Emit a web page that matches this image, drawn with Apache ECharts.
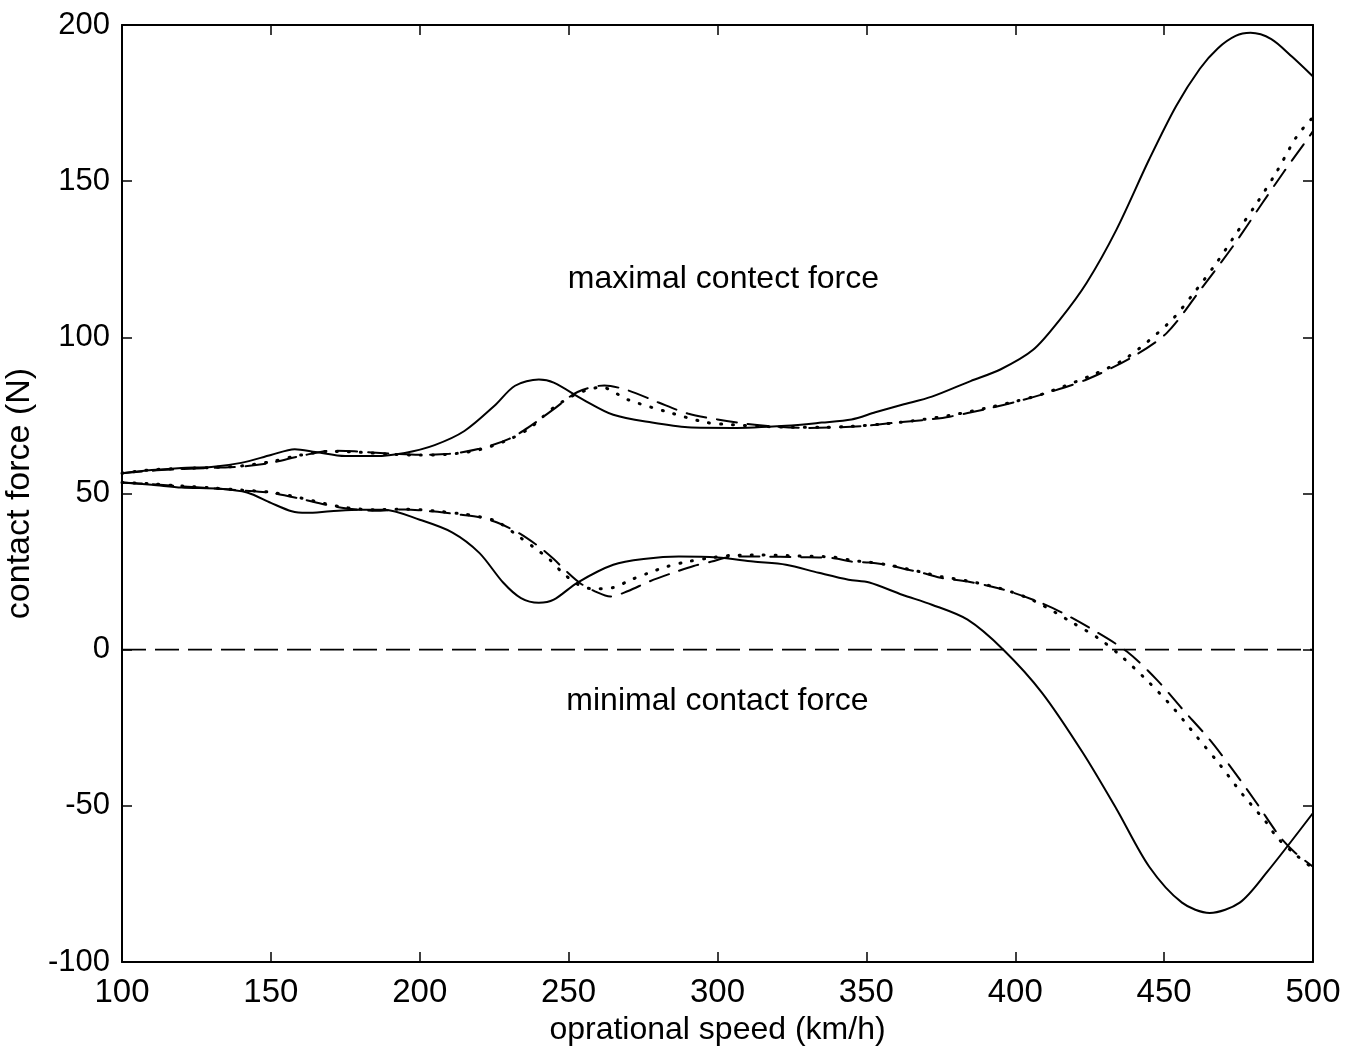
<!DOCTYPE html>
<html>
<head>
<meta charset="utf-8">
<script src="https://cdn.jsdelivr.net/npm/echarts@6/dist/echarts.min.js"></script>
<style>
html,body{margin:0;padding:0;background:#fff;}
#chart{width:1359px;height:1048px;}
</style>
</head>
<body>
<div id="chart"></div>
<script>
// x ticks / y ticks
const xTicks = [100, 150, 200, 250, 300, 350, 400, 450, 500];
const yTicks = [-100, -50, 0, 50, 100, 150, 200];

// Maximal contact force curves [speed, force]
const maxSolid = [
  [100,56.5],[110,57.5],[120,58.2],[130,58.5],[140,59.8],[150,62.3],[158,64.2],[165,63.3],
  [175,62],[185,62],[195,63],[205,65.5],[215,70],[225,78],[232,84.5],[240,86.5],[245,85.5],
  [255,80],[265,75.2],[278,72.7],[290,71.2],[305,71],[323,71.7],[335,72.7],[345,73.7],
  [353,76],[362,78.4],[372,81],[385,86],[395,89.7],[406,96],[415,105.7],[424,117.5],
  [434,134.5],[445,157],[454,174],[462,186],[468,192.5],[474,196.5],[479,197.5],[486,195.5],
  [493,189.8],[500,183.5]
];
const maxDotted = [
  [100,56.5],[110,57.6],[120,58],[130,58.3],[140,58.8],[150,60.2],[160,62.3],[170,63.5],
  [180,63.2],[190,62.6],[200,62.3],[210,62.6],[220,64],[230,67.3],[237,71],[245,77.5],
  [253,82],[261,84],[270,80],[284,75.9],[296,72.8],[305,72],[315,71.5],[325,71.2],[335,71.2],
  [345,71.5],[355,72.2],[365,73.2],[378,75],[390,77.3],[400,79.5],[409,81.8],[426,88],
  [437.5,93.5],[452,105],[459.6,113.7],[467.7,124],[474.4,133.5],[481.5,143.5],[487.8,153],
  [494.6,164.4],[500,170.5]
];
const maxDashed = [
  [100,56.5],[110,57.3],[120,57.8],[130,58.2],[140,58.6],[150,59.8],[160,62],[170,63.7],
  [178,63.5],[190,62.8],[200,62.4],[210,62.7],[220,64.3],[230,67.5],[237,71.5],[245,77],
  [253,82.5],[262,84.6],[270,83],[280,79.2],[290,75.6],[300,73.7],[310,72.3],[320,71.4],
  [330,71],[340,71.2],[350,71.7],[360,72.7],[370,73.6],[378,74.6],[390,77],[400,79.3],
  [410,82],[424,86.5],[439.5,93.8],[451,101.5],[462,115],[473,129],[483,143],[490,152.7],
  [498,163.3],[500,166]
];

// Minimal contact force curves [speed, force]
const minSolid = [
  [100,53.5],[110,52.8],[120,51.9],[133,51.5],[142,50.3],[150,47],[157,44.3],[162,43.8],
  [170,44.3],[180,44.8],[188,44.8],[200,41.6],[211,37.5],[220,31],[228,21.5],[234,16.5],
  [240,15],[245,16],[253,21.5],[265,27.2],[276,29.1],[287,29.8],[300,29.5],[312,28.2],
  [323,27.2],[334,24.6],[344,22.4],[351,21.5],[362,17.6],[372,14.4],[384,9.6],[396,0],
  [409,-13.8],[422.7,-33],[434,-51],[445,-69.5],[456,-81],[465.3,-84.3],[475.4,-81],
  [484.4,-71.4],[500,-52.3]
];
const minDotted = [
  [100,53.5],[110,53.1],[120,52.4],[130,51.8],[140,51.1],[150,50.4],[160,48.6],[168,46.8],
  [175,45.5],[185,44.8],[195,45],[205,44.4],[214,43.5],[220,42.6],[226,41],[233.6,36],
  [239.4,32],[243.7,28.8],[248,24.6],[253,21],[258,19.5],[265,19.9],[271,22.4],[277,24.6],
  [283,26.6],[290,28.2],[297,29.3],[305,30.2],[315,30.3],[327,30],[339,29.6],[345,28.6],
  [351,28],[357,27.2],[364,25.8],[370,24.5],[375,23.4],[384,22],[395,19.6],[406,15.8],
  [419.3,8.6],[428,3.6],[435,-1.6],[444,-9.6],[453,-18.6],[461,-27.9],[468.7,-36.8],
  [476.4,-46.4],[484.4,-55.4],[488,-60.2],[494,-65.5],[500,-70]
];
const minDashed = [
  [100,53.5],[110,53],[120,52.3],[130,51.7],[140,51],[150,50.2],[160,48.3],[168,46.5],
  [175,45.3],[185,44.5],[195,44.9],[205,44.2],[214,43.2],[220,42.4],[226,40.7],[233,37.5],
  [240,33],[245,29],[249,25.3],[254,21.2],[259,18.6],[264,17],[270,18.8],[277,21.8],
  [285,24.6],[292,26.8],[298,28.2],[305,29.8],[315,29.8],[327,29.6],[339,29.3],[345,28.2],
  [351,27.9],[357,27.1],[364,25.6],[370,24.3],[375,23],[384,21.8],[395,19.5],[406,16],
  [415,12.2],[426,6.4],[437.5,-0.6],[447.5,-9.6],[456.3,-19.2],[465.3,-28.8],[473,-38.4],
  [481,-49],[488.8,-59.8],[494,-65],[500,-69.5]
];

// zero reference line
const zeroLine = [[100,0],[500,0]];

// annotation texts with their data anchor
const annotations = [
  {text: 'maximal contect force', at: [302, 118.5]},
  {text: 'minimal contact force', at: [300, -16.5]}
];

const chart = echarts.init(document.getElementById('chart'), null, {renderer: 'canvas'});

const FONT = "'Liberation Sans', Arial, Helvetica, sans-serif";
const axisLine = {show: true, onZero: false, lineStyle: {color: '#000', width: 2}};
const axisTick = {show: true, inside: true, length: 10, lineStyle: {color: '#000', width: 1.5}};

function lineSeries(name, data, type, width) {
  return {
    name: name, type: 'line', data: data, xAxisIndex: 0, yAxisIndex: 0,
    showSymbol: false, symbol: 'none', smooth: 0.3,
    lineStyle: {color: '#000', width: width, type: type, cap: 'round'},
    z: 3
  };
}

const option = {
  animation: false,
  backgroundColor: '#fff',
  grid: {left: 122, right: 46, top: 25, bottom: 86, containLabel: false, outerBoundsMode: 'none'},
  xAxis: [
    {
      type: 'value', min: 100, max: 500, interval: 50, position: 'bottom',
      name: 'oprational speed (km/h)', nameLocation: 'middle', nameGap: 52,
      nameTextStyle: {fontFamily: FONT, fontSize: 32, color: '#000'},
      axisLine: axisLine, axisTick: axisTick,
      axisLabel: {show: true, margin: 14, fontFamily: FONT, fontSize: 33, color: '#000'},
      splitLine: {show: false}
    },
    {
      type: 'value', min: 100, max: 500, interval: 50, position: 'top',
      axisLine: axisLine, axisTick: axisTick, axisLabel: {show: false}, splitLine: {show: false}
    }
  ],
  yAxis: [
    {
      type: 'value', min: -100, max: 200, interval: 50, position: 'left',
      name: 'contact force (N)', nameLocation: 'middle', nameGap: 80, nameRotate: 90,
      nameTextStyle: {fontFamily: FONT, fontSize: 34, color: '#000'},
      axisLine: axisLine, axisTick: axisTick,
      axisLabel: {show: true, margin: 12, fontFamily: FONT, fontSize: 31, color: '#000'},
      splitLine: {show: false}
    },
    {
      type: 'value', min: -100, max: 200, interval: 50, position: 'right',
      axisLine: axisLine, axisTick: axisTick, axisLabel: {show: false}, splitLine: {show: false}
    }
  ],
  series: [
    lineSeries('max solid', maxSolid, 'solid', 2),
    lineSeries('max dotted', maxDotted, [1, 11], 3),
    lineSeries('max dashed', maxDashed, [20, 11], 2),
    lineSeries('min solid', minSolid, 'solid', 2),
    lineSeries('min dotted', minDotted, [1, 11], 3),
    lineSeries('min dashed', minDashed, [20, 11], 2),
    {
      name: 'zero', type: 'line', data: zeroLine, showSymbol: false, symbol: 'none',
      lineStyle: {color: '#000', width: 1.6, type: [24, 9]}, z: 2
    },
    {
      name: 'labels', type: 'scatter', symbolSize: 0,
      itemStyle: {opacity: 1, color: '#000'},
      data: annotations.map(a => ({value: a.at, label: {formatter: a.text}})),
      label: {show: true, position: 'inside', fontFamily: FONT, fontSize: 32, color: '#000', opacity: 1, textBorderWidth: 0},
      emphasis: {disabled: true},
      z: 4
    }
  ]
};

chart.setOption(option);
</script>
</body>
</html>
